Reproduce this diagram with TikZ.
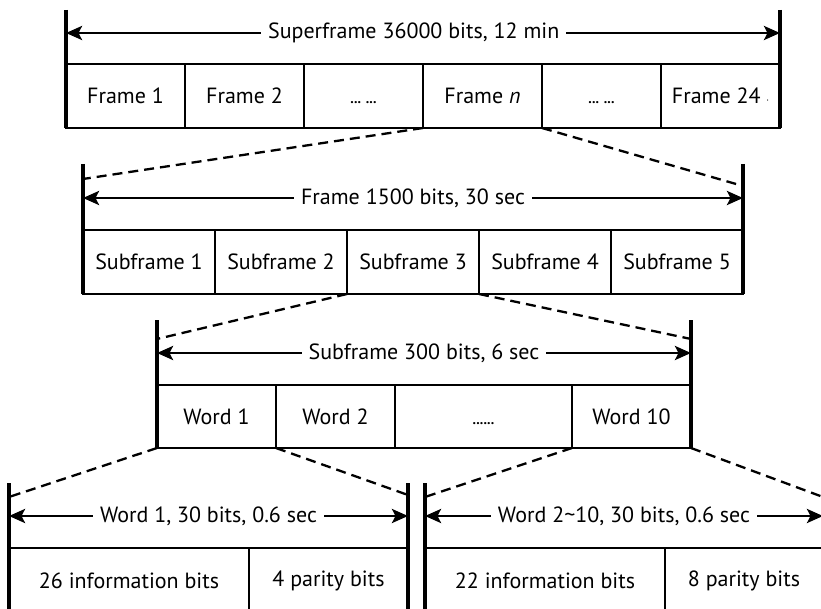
\documentclass[tikz,border=0pt]{standalone}
\usepackage{fontspec}
\setmainfont{PT Sans}
\usetikzlibrary{positioning,arrows.meta}

\tikzset{
  cell/.style={draw, line width=2.3pt, minimum height=64pt, inner sep=0pt, outer sep=0pt,
    font=\fontsize{22}{26}\selectfont},
  span/.style={line width=2.8pt,
    {Stealth[length=16pt,width=14pt,inset=3.5pt]}-{Stealth[length=16pt,width=14pt,inset=3.5pt]}},
  spanlabel/.style={fill=white, inner xsep=7pt, inner ysep=2pt, font=\fontsize{22}{26}\selectfont},
  edge/.style={line width=3.2pt},
  zoomline/.style={line width=2.3pt, dash pattern=on 10pt off 6pt},
}
\newcommand{\gapdots}[1]{\vphantom{F}{\fontsize{14}{14}\selectfont\bfseries #1}}

\begin{document}
\begin{tikzpicture}[x=1pt,y=-1pt]
\useasboundingbox (0,0) rectangle (821,609);
\clip (0,0) rectangle (821,609);

% superframe
\node[cell, minimum width=119pt, anchor=north west] (fr1) at (66,64) {Frame 1};
\node[cell, minimum width=119pt, right=0pt of fr1] (fr2) {Frame 2};
\node[cell, minimum width=119pt, right=0pt of fr2] (fr3) {\gapdots{... ...}};
\node[cell, minimum width=119pt, right=0pt of fr3] (frn) {Frame \textit{n}};
\node[cell, minimum width=119pt, right=0pt of frn] (fr5) {\gapdots{... ...}};
\node[cell, minimum width=119pt, right=0pt of fr5] (fr24) {Frame 24 {\fontsize{10}{10}\selectfont·}};
\coordinate (supTL) at (66,10);
\coordinate (supTR) at (780,10);
\coordinate (supL) at (66,33);
\coordinate (supR) at (780,33);
\draw[edge] (supTL) -- (fr1.south west);
\draw[edge] (supTR) -- (fr24.south east);
\draw[span] (supL) -- (supR) node[spanlabel, pos=0.487] (suplabel) {Superframe 36000 bits, 12 min};

% frame
\node[cell, minimum width=132pt, anchor=north west] (sub1) at (83,230) {Subframe 1};
\node[cell, minimum width=132pt, right=0pt of sub1] (sub2) {Subframe 2};
\node[cell, minimum width=132pt, right=0pt of sub2] (sub3) {Subframe 3};
\node[cell, minimum width=132pt, right=0pt of sub3] (sub4) {Subframe 4};
\node[cell, minimum width=132pt, right=0pt of sub4] (sub5) {Subframe 5};
\coordinate (frTL) at (83,164);
\coordinate (frTR) at (743,164);
\coordinate (frL) at (83,198);
\coordinate (frR) at (743,198);
\coordinate (frZL) at (83,179);
\coordinate (frZR) at (743,186);
\draw[edge] (frTL) -- (sub1.south west);
\draw[edge] (frTR) -- (sub5.south east);
\draw[span] (frL) -- (frR) node[spanlabel, midway] (frlabel) {Frame 1500 bits, 30 sec};
\draw[zoomline] (frn.south west) -- (frZL);
\draw[zoomline] (frn.south east) -- (frZR);

% subframe
\node[cell, minimum width=119pt, minimum height=63pt, anchor=north west] (w1) at (157,385) {Word 1};
\node[cell, minimum width=119pt, minimum height=63pt, right=0pt of w1] (w2) {Word 2};
\node[cell, minimum width=177pt, minimum height=63pt, right=0pt of w2] (w3) {\gapdots{......}};
\node[cell, minimum width=119pt, minimum height=63pt, right=0pt of w3] (w10) {Word 10};
\coordinate (sbTL) at (157,320);
\coordinate (sbTR) at (691,320);
\coordinate (sbL) at (157,353);
\coordinate (sbR) at (691,353);
\coordinate (sbZL) at (157,339);
\coordinate (sbZR) at (691,339);
\draw[edge] (sbTL) -- (w1.south west);
\draw[edge] (sbTR) -- (w10.south east);
\draw[span] (sbL) -- (sbR) node[spanlabel, midway] (sblabel) {Subframe 300 bits, 6 sec};
\draw[zoomline] (sub3.south west) -- (sbZL);
\draw[zoomline] (sub3.south east) -- (sbZR);

% word 1
\node[cell, minimum width=240pt, minimum height=65pt, anchor=north west] (info1) at (9,548) {26 information bits};
\node[cell, minimum width=159pt, minimum height=65pt, right=0pt of info1] (par1) {4 parity bits};
\coordinate (waTL) at (9,483);
\coordinate (waTR) at (408,483);
\coordinate (waL) at (9,516);
\coordinate (waR) at (408,516);
\coordinate (waZL) at (9,497);
\coordinate (waZR) at (408,495);
\draw[edge] (waTL) -- (info1.south west);
\draw[edge] (waTR) -- (par1.south east);
\draw[span] (waL) -- (waR) node[spanlabel, midway] (walabel) {Word 1, 30 bits, 0.6 sec};
\draw[zoomline] (w1.south west) -- (waZL);
\draw[zoomline] (w1.south east) -- (waZR);

% words 2-10
\node[cell, minimum width=240pt, minimum height=65pt, anchor=north west] (info2) at (425,548) {22 information bits};
\node[cell, minimum width=158pt, minimum height=65pt, right=0pt of info2] (par2) {8 parity bits};
\coordinate (wbTL) at (425,483);
\coordinate (wbTR) at (823,483);
\coordinate (wbL) at (425,516);
\coordinate (wbR) at (823,516);
\coordinate (wbZL) at (425,497);
\coordinate (wbZR) at (823,497);
\draw[edge] (wbTL) -- (info2.south west);
\draw[edge] (wbTR) -- (par2.south east);
\draw[span] (wbL) -- (wbR) node[spanlabel, midway] (wblabel) {Word 2\textasciitilde10, 30 bits, 0.6 sec};
\draw[zoomline] (w10.south west) -- (wbZL);
\draw[zoomline] (w10.south east) -- (wbZR);
\end{tikzpicture}
\end{document}
